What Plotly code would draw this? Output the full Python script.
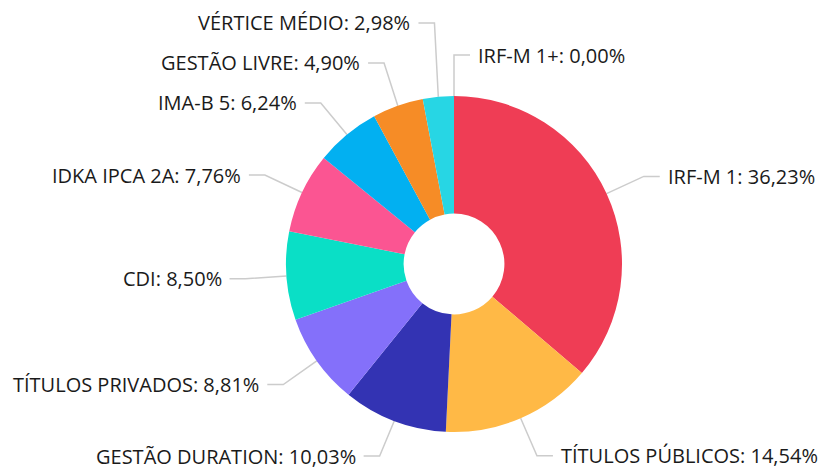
import math
import plotly.graph_objects as go

labels = ["IRF-M 1", "TÍTULOS PÚBLICOS", "GESTÃO DURATION", "TÍTULOS PRIVADOS", "CDI",
          "IDKA IPCA 2A", "IMA-B 5", "GESTÃO LIVRE", "VÉRTICE MÉDIO", "IRF-M 1+"]
values = [36.23, 14.54, 10.03, 8.81, 8.50, 7.76, 6.24, 4.90, 2.98, 0.00]
colors = ["#EF3D55", "#FFB946", "#3333B3", "#8470FA", "#0ADFC6",
          "#FB5592", "#02B0F1", "#F68C26", "#27D6E4", "#A0A0A0"]

W, H = 821, 471
CX, CY, R = 454, 264, 168
KNEE_R = 209
SEG = 16
GAP_TXT = 7
MIN_DY = 40
FS = 20

fig = go.Figure()
fig.add_trace(go.Pie(
    labels=labels, values=values, sort=False, direction="clockwise", rotation=0,
    hole=0.3, textinfo="none", marker=dict(colors=colors, line=dict(width=0)),
    domain=dict(x=[(CX - R) / W, (CX + R) / W], y=[1 - (CY + R) / H, 1 - (CY - R) / H]),
    showlegend=False, hovertemplate="%{label}: %{value}<extra></extra>",
))

total = sum(values)
items = []
cum = 0.0
for lab, v in zip(labels, values):
    mid = (cum + v / 2) / total * 2 * math.pi
    cum += v
    s, c = math.sin(mid), math.cos(mid)
    if abs(s) < 1e-9:
        s = 0.0
    side = "right" if s >= 0 else "left"
    ky = min(CY - KNEE_R * c, H - 0.7 * FS - 1)
    items.append(dict(lab=lab, v=v, s=s, c=c, side=side,
                      ex=CX + R * s, ey=CY - R * c,
                      kx=CX + KNEE_R * s, ky=ky))

# resolve overlaps per side
left = sorted([it for it in items if it["side"] == "left"], key=lambda d: -d["ky"])
prev = None
for it in left:
    if prev is not None and it["ky"] > prev - MIN_DY:
        it["ky"] = prev - MIN_DY
    prev = it["ky"]
right = sorted([it for it in items if it["side"] == "right"], key=lambda d: d["ky"])
prev = None
for it in right:
    if prev is not None and it["ky"] < prev + MIN_DY:
        it["ky"] = prev + MIN_DY
    prev = it["ky"]

annotations = []
for it in items:
    sgn = 1 if it["side"] == "right" else -1
    hx = it["kx"] + sgn * SEG
    fig.add_trace(go.Scatter(
        x=[it["ex"], it["kx"], hx], y=[it["ey"], it["ky"], it["ky"]],
        mode="lines", line=dict(color="#CCCCCC", width=1.5),
        hoverinfo="skip", showlegend=False, xaxis="x", yaxis="y"))
    txt = f"{it['lab']}: {it['v']:.2f}%".replace(".", ",")
    annotations.append(dict(
        x=hx + sgn * GAP_TXT, y=it["ky"], xref="x", yref="y", text=txt,
        showarrow=False, xanchor="left" if sgn > 0 else "right", yanchor="middle",
        borderpad=0,
        font=dict(family="Open Sans", size=FS, color="#1a1a1a")))

fig.update_layout(
    width=W, height=H, margin=dict(l=0, r=0, t=0, b=0),
    paper_bgcolor="white", plot_bgcolor="rgba(0,0,0,0)",
    xaxis=dict(range=[0, W], visible=False, fixedrange=True),
    yaxis=dict(range=[H, 0], visible=False, fixedrange=True),
    annotations=annotations,
)
fig.write_html("out.html", config={"displayModeBar": False},
               post_script="document.body.style.margin='0';document.body.style.overflow='hidden';")
